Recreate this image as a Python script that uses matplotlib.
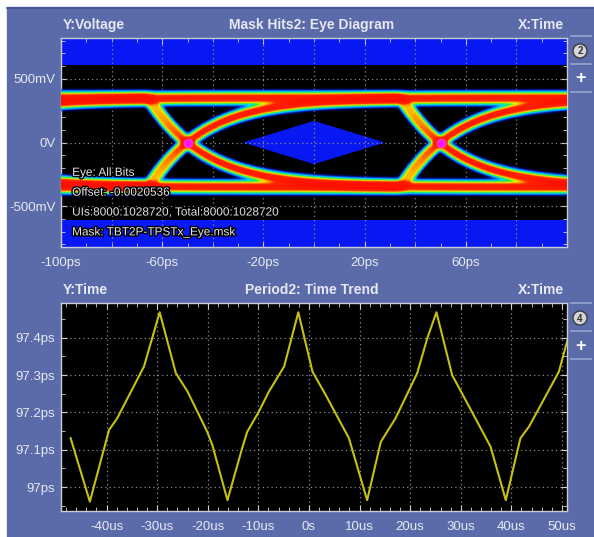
import itertools
import numpy as np
import matplotlib
matplotlib.use('Agg')
import matplotlib.pyplot as plt
import matplotlib.patheffects as pe
from matplotlib.colors import LinearSegmentedColormap
from matplotlib.patches import Circle, Polygon, Rectangle

# ---- top panel: eye diagram ----
eye_xlim_ps = (-100, 100)
eye_ylim_mv = (-820, 820)
eye_xticks_ps = [-100, -60, -20, 20, 60]
eye_xtick_labels = ['-100ps', '-60ps', '-20ps', '20ps', '60ps']
eye_yticks_mv = [-500, 0, 500]
eye_ytick_labels = ['-500mV', '0V', '500mV']
eye_grid_x_ps = [-80, -60, -40, -20, 0, 20, 40, 60, 80]
bit_edges_ps = [-150, -50, 50]          # zero crossings of the eye
crossing_marks_ps = [-50, 50]
rail_levels_mv = [332, 350, 368]        # spread of the high/low rails
jitter_ps = [-2.0, -1.0, 0.0, 1.0, 2.0]
tau_ps = 22.0
noise_mv = 19.0
mask_top_mv = 610
mask_bottom_mv = -610
mask_diamond_ps = [-28, 0, 28, 0]
mask_diamond_mv = [0, 170, 0, -170]
eye_notes = ['Eye: All Bits', 'Offset: -0.0020536',
             'UIs:8000:1028720, Total:8000:1028720',
             'Mask: TBT2P-TPSTx_Eye.msk']

# ---- bottom panel: period time trend ----
trend_us = [-47.1, -43.3, -39.5, -37.9, -32.6, -29.5, -26.3, -24.0, -20.1, -19.1,
            -16.1, -13.2, -12.2, -9.9, -7.9, -4.9, -2.1, 0.7, 3.3, 7.9,
            11.5, 14.2, 17.1, 21.4, 23.4, 25.2, 28.3, 30.6, 35.9, 38.9,
            41.8, 43.5, 49.4, 51.1]
trend_ps = [97.131, 96.961, 97.153, 97.184, 97.323, 97.468, 97.305, 97.256, 97.148, 97.113,
            96.965, 97.104, 97.148, 97.202, 97.256, 97.323, 97.468, 97.309, 97.247, 97.131,
            96.965, 97.121, 97.184, 97.305, 97.399, 97.468, 97.300, 97.242, 97.108, 96.965,
            97.131, 97.162, 97.309, 97.394]
trend_xlim_us = (-49, 51)
trend_ylim_ps = (96.936, 97.492)
trend_xticks_us = [-40, -30, -20, -10, 0, 10, 20, 30, 40, 50]
trend_xtick_labels = ['-40us', '-30us', '-20us', '-10us', '0s', '10us', '20us', '30us', '40us', '50us']
trend_yticks_ps = [97.0, 97.1, 97.2, 97.3, 97.4]
trend_ytick_labels = ['97ps', '97.1ps', '97.2ps', '97.3ps', '97.4ps']

panel_color = '#5b6baa'
text_color = '#e6e8f2'
mask_blue = '#0818f2'
grid_color = '#8c8c8c'

plt.rcParams['font.family'] = ['Liberation Sans', 'DejaVu Sans']

fig = plt.figure(figsize=(5.94, 5.37), dpi=100)
fig.patch.set_facecolor('white')

# background panel in pixel coordinates
bg = fig.add_axes([0, 0, 1, 1], zorder=0)
bg.set_xlim(0, 594)
bg.set_ylim(537, 0)
bg.axis('off')
bg.add_patch(Rectangle((7, 7), 587, 530, color=panel_color))
bg.plot([7, 594], [8, 8], color='#46559a', lw=1.2)

for y, left, mid, right in [(25, 'Y:Voltage', 'Mask Hits2: Eye Diagram', 'X:Time'),
                            (290, 'Y:Time', 'Period2: Time Trend', 'X:Time')]:
    bg.text(63, y, left, color=text_color, fontsize=10, fontweight='bold', ha='left', va='center')
    bg.text(312, y, mid, color=text_color, fontsize=10, fontweight='bold', ha='center', va='center')
    bg.text(564, y, right, color=text_color, fontsize=10, fontweight='bold', ha='right', va='center')

# side buttons
for top, label in [(0, '2'), (267, '4')]:
    for ly in (36, 64, 92):
        bg.plot([571, 591], [top + ly, top + ly], color='#9aa4d4', lw=1.2)
    bg.add_patch(Circle((580, top + 51), 7, fc='#d6d6d8', ec='#3a3a44', lw=1.0))
    bg.text(580, top + 51.5, label, fontsize=7, color='#303030', ha='center', va='center',
            fontweight='bold')
    bg.text(580, top + 79, '+', fontsize=13, color='white', ha='center', va='center',
            fontweight='bold')


def style_axes(ax):
    ax.set_facecolor('black')
    for s in ax.spines.values():
        s.set_color('#c8ccd8')
        s.set_linewidth(1.0)
    ax.tick_params(which='both', direction='in', colors='#d0d0d0', top=True, right=True,
                   labelcolor=text_color, labelsize=9.5)
    ax.tick_params(which='major', length=4)
    ax.tick_params(which='minor', length=3)


# ---- eye diagram ----
ax1 = fig.add_axes([61 / 594, 1 - 247 / 537, 506 / 594, 209 / 537], zorder=1)
style_axes(ax1)
ax1.set_xlim(*eye_xlim_ps)
ax1.set_ylim(*eye_ylim_mv)

ax1.add_patch(Rectangle((eye_xlim_ps[0], mask_top_mv), 200, eye_ylim_mv[1] - mask_top_mv,
                        color=mask_blue, zorder=1, lw=0))
ax1.add_patch(Rectangle((eye_xlim_ps[0], eye_ylim_mv[0]), 200, mask_bottom_mv - eye_ylim_mv[0],
                        color=mask_blue, zorder=1, lw=0))
ax1.add_patch(Polygon(np.column_stack([mask_diamond_ps, mask_diamond_mv]), closed=True,
                      color=mask_blue, zorder=1, lw=0))

for gx in eye_grid_x_ps:
    ax1.axvline(gx, color=grid_color, lw=0.9, ls=(0, (1, 2.5)), zorder=2)
for gy in eye_yticks_mv:
    ax1.axhline(gy, color=grid_color, lw=0.9, ls=(0, (1, 2.5)), zorder=2)

t = np.linspace(eye_xlim_ps[0], eye_xlim_ps[1], 600)
v = np.linspace(eye_ylim_mv[0], eye_ylim_mv[1], 520)
dens = np.zeros((v.size, t.size))
starts = np.array(bit_edges_ps) - tau_ps * np.log(2)
for bits in itertools.product([-1, 1], repeat=len(bit_edges_ps) + 1):
    for amp in rail_levels_mv:
        for jit in jitter_ps:
            tt = t - jit
            y = np.full_like(t, bits[0] * amp, dtype=float)
            for k, s in enumerate(starts):
                step = (bits[k + 1] - bits[k]) * amp
                if step:
                    y += step * np.where(tt > s, 1 - np.exp(-(tt - s) / tau_ps), 0.0)
            dens += np.exp(-0.5 * ((v[:, None] - y[None, :]) / noise_mv) ** 2)
dens = np.clip(dens / (0.72 * dens.max()), 0, 1)

hits_cmap = LinearSegmentedColormap.from_list('hits', [
    (0.0, '#0010ff'), (0.07, '#00d8ff'), (0.15, '#20f040'), (0.25, '#f8f000'),
    (0.37, '#ff9000'), (0.5, '#ff2400'), (1.0, '#ff1000')])
rgba = hits_cmap(dens)
rgba[..., 3] = np.clip(dens / 0.025, 0, 1)
ax1.imshow(rgba, extent=(t[0], t[-1], v[0], v[-1]), origin='lower', aspect='auto',
           interpolation='bilinear', zorder=3)
# highest hit count sits at the crossings
ax1.plot(crossing_marks_ps, [0] * len(crossing_marks_ps), 'o', color='#ff10ff', ms=6,
         mec='#ff40c0', mew=1, zorder=4)

ax1.set_xticks(eye_xticks_ps)
ax1.set_xticklabels(eye_xtick_labels)
ax1.set_yticks(eye_yticks_mv)
ax1.set_yticklabels(eye_ytick_labels)
ax1.set_xticks(np.arange(-90, 100, 10), minor=True)
ax1.set_yticks(np.arange(-800, 801, 100), minor=True)
ax1.tick_params(axis='x', pad=7)
ax1.tick_params(axis='y', pad=4)

for i, note in enumerate(eye_notes):
    ax1.text(0.022, 0.355 - i * 0.095, note, transform=ax1.transAxes, fontsize=8.5,
             color='#e4e4e4', ha='left', va='center', zorder=6,
             path_effects=[pe.withStroke(linewidth=2, foreground='black')])

# ---- time trend ----
ax2 = fig.add_axes([61 / 594, 1 - 511 / 537, 506 / 594, 207.7 / 537], zorder=1)
style_axes(ax2)
ax2.set_xlim(*trend_xlim_us)
ax2.set_ylim(*trend_ylim_ps)
for gx in trend_xticks_us:
    ax2.axvline(gx, color=grid_color, lw=0.9, ls=(0, (1, 2.5)), zorder=1)
for gy in trend_yticks_ps:
    ax2.axhline(gy, color=grid_color, lw=0.9, ls=(0, (1, 2.5)), zorder=1)
ax2.plot(trend_us, trend_ps, color='#c8c010', lw=1.5, zorder=3)

ax2.set_xticks(trend_xticks_us)
ax2.set_xticklabels(trend_xtick_labels)
ax2.set_yticks(trend_yticks_ps)
ax2.set_yticklabels(trend_ytick_labels)
ax2.set_xticks(np.arange(-48, 51, 2), minor=True)
ax2.set_yticks(np.arange(96.95, 97.5, 0.05), minor=True)
ax2.tick_params(axis='x', pad=7)
ax2.tick_params(axis='y', pad=4)

fig.savefig('out.png', dpi=100, facecolor=fig.get_facecolor())
